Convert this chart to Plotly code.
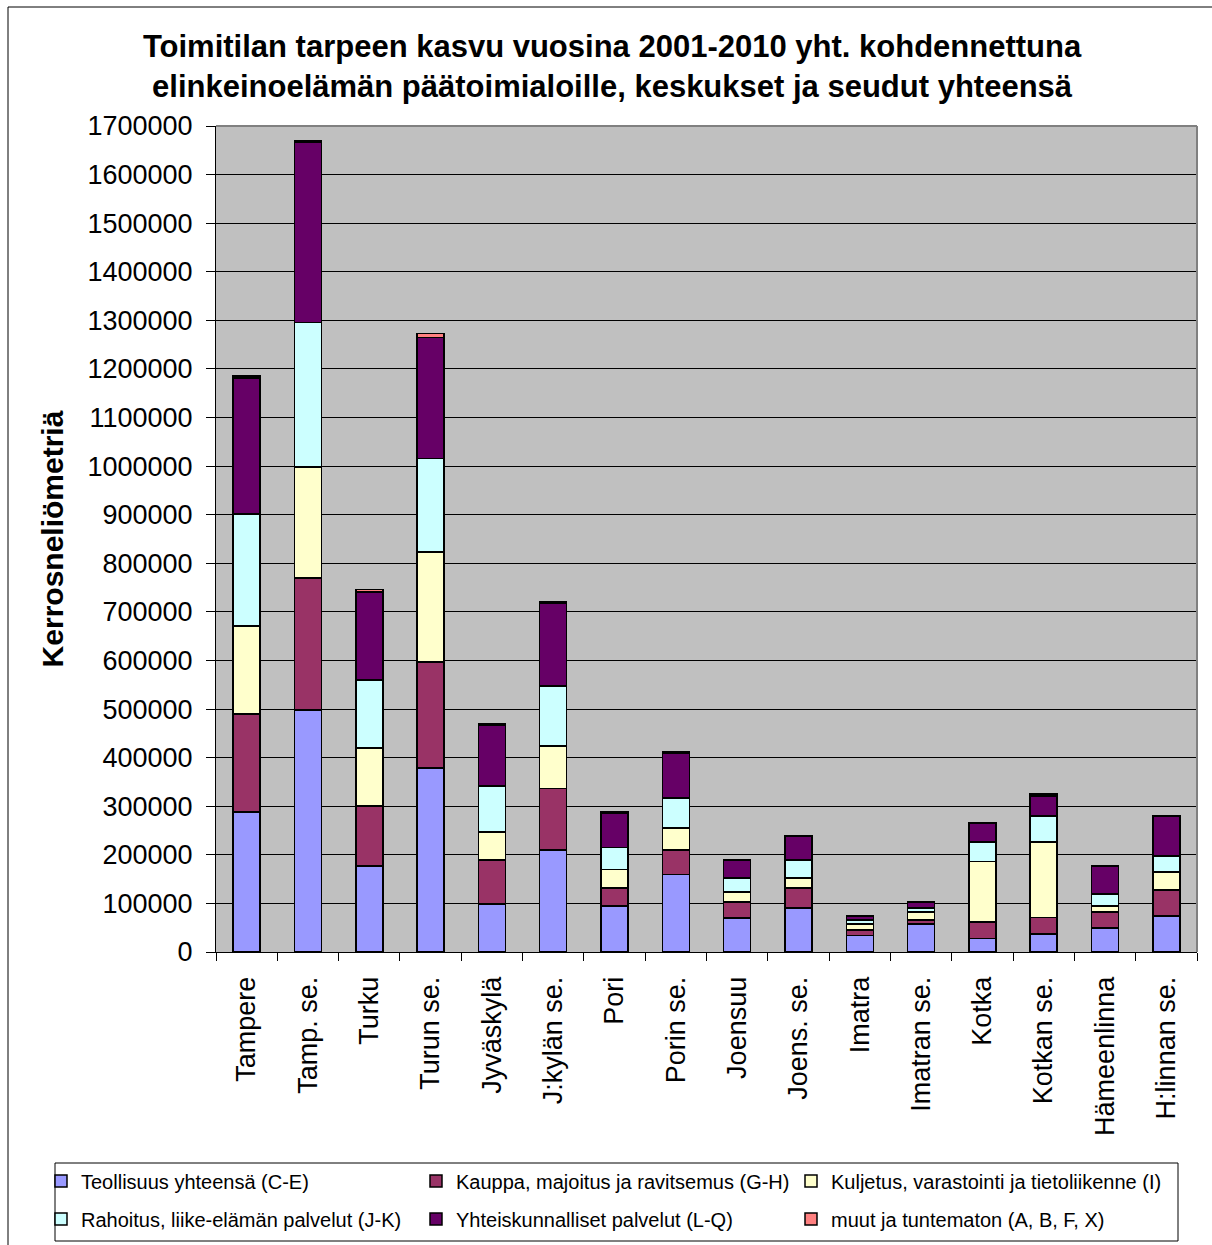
import plotly.graph_objects as go

categories = ["Tampere", "Tamp. se.", "Turku", "Turun se.", "Jyväskylä", "J:kylän se.",
              "Pori", "Porin se.", "Joensuu", "Joens. se.", "Imatra", "Imatran se.",
              "Kotka", "Kotkan se.", "Hämeenlinna", "H:linnan se."]

teollisuus = [288000, 498000, 177000, 379000, 99000, 210000, 95000, 160000,
              70000, 91000, 34000, 58000, 28000, 37000, 49000, 74000]
kauppa = [202000, 272000, 123000, 218000, 90000, 127000, 37000, 50000,
          33000, 41000, 11000, 8000, 34000, 34000, 33000, 54000]
kuljetus = [181000, 228000, 120000, 226000, 58000, 87000, 38000, 45000,
            20000, 20000, 13000, 16000, 124000, 155000, 13000, 37000]
rahoitus = [230000, 298000, 140000, 193000, 95000, 123000, 45000, 62000,
            29000, 37000, 8000, 9000, 40000, 54000, 24000, 33000]
yhteis = [280000, 371000, 181000, 249000, 124000, 170000, 70000, 92000,
          37000, 50000, 8000, 12000, 38000, 41000, 58000, 82000]
muut = [4000, 2000, 5000, 8000, 3000, 3000, 3000, 3000,
        1000, 1000, 1000, 1000, 1000, 4000, 1000, 1000]

series_names = ["Teollisuus yhteensä (C-E)", "Kauppa, majoitus ja ravitsemus (G-H)",
                "Kuljetus, varastointi ja tietoliikenne (I)", "Rahoitus, liike-elämän palvelut (J-K)",
                "Yhteiskunnalliset palvelut (L-Q)", "muut ja tuntematon (A, B, F, X)"]
series_values = [teollisuus, kauppa, kuljetus, rahoitus, yhteis, muut]
series_colors = ["#9999FF", "#993366", "#FFFFCC", "#CCFFFF", "#660066", "#FF8080"]
series_legend = ["legend", "legend", "legend", "legend2", "legend2", "legend2"]

y_ticks = list(range(0, 1700001, 100000))

FONT = "Liberation Sans, Arial, sans-serif"

fig = go.Figure()
for name, vals, col, lg in zip(series_names, series_values, series_colors, series_legend):
    fig.add_trace(go.Bar(x=categories, y=vals, name=name, legend=lg,
                         marker=dict(color=col, line=dict(color="black", width=1.5))))

W, H = 1212, 1245
L, R, T, B = 216, 15, 126, 293
pw, ph = W - L - R, H - T - B

def px_x(p):
    return (p - L) / pw

def px_y(p):
    return (H - B - p) / ph

legend_common = dict(orientation="h", x=px_x(41), xanchor="left", yanchor="middle",
                     borderwidth=0, bgcolor="rgba(0,0,0,0)",
                     font=dict(size=20, family=FONT, color="black"),
                     entrywidth=330, traceorder="normal")

fig.update_layout(
    width=W, height=H,
    margin=dict(l=L, r=R, t=T, b=B, autoexpand=False),
    barmode="stack",
    bargap=0.56,
    plot_bgcolor="#C0C0C0",
    paper_bgcolor="white",
    font=dict(family=FONT, color="black"),
    title=dict(text="Toimitilan tarpeen kasvu vuosina 2001-2010 yht. kohdennettuna<br>"
                    "elinkeinoelämän päätoimialoille, keskukset ja seudut yhteensä",
               font=dict(size=31, family=FONT, color="black", weight="bold"),
               x=0.505, xref="container", xanchor="center",
               y=1 - 57 / H, yref="container", yanchor="middle"),
    legend=dict(legend_common, y=px_y(1181)),
    legend2=dict(legend_common, y=px_y(1219)),
    showlegend=True,
)

fig.update_xaxes(
    type="category", tickangle=-90, tickfont=dict(size=27, family=FONT, color="black"),
    showline=True, linecolor="black", linewidth=1,
    ticks="outside", tickson="boundaries", ticklen=8, tickcolor="black",
    ticklabelstandoff=13, showgrid=False,
)
fig.update_yaxes(
    range=[0, 1700000], tickvals=y_ticks, ticktext=[str(v) for v in y_ticks],
    tickfont=dict(size=27, family=FONT, color="black"),
    showline=True, linecolor="black", linewidth=1,
    ticks="outside", ticklen=9, tickcolor="black", ticklabelstandoff=8,
    showgrid=True, gridcolor="black", gridwidth=1, zeroline=False,
    title=dict(text="<b>Kerrosneliömetriä</b>", font=dict(size=30, family=FONT, color="black"),
               standoff=14),
)

# plot area border (top/right in gray)
fig.add_shape(type="line", xref="paper", yref="paper", x0=0, x1=1, y0=1, y1=1,
              line=dict(color="#808080", width=2))
fig.add_shape(type="line", xref="paper", yref="paper", x0=1, x1=1, y0=0, y1=1,
              line=dict(color="#808080", width=2))
# outer chart frame
fig.add_shape(type="line", xref="paper", yref="paper", x0=px_x(8), x1=px_x(8),
              y0=px_y(1260), y1=px_y(7), line=dict(color="black", width=1))
fig.add_shape(type="line", xref="paper", yref="paper", x0=px_x(8), x1=px_x(1230),
              y0=px_y(7), y1=px_y(7), line=dict(color="black", width=1))
# legend frame
fig.add_shape(type="rect", xref="paper", yref="paper", x0=px_x(55), x1=px_x(1178),
              y0=px_y(1241), y1=px_y(1163), line=dict(color="black", width=1))

fig.write_html("out.html")
